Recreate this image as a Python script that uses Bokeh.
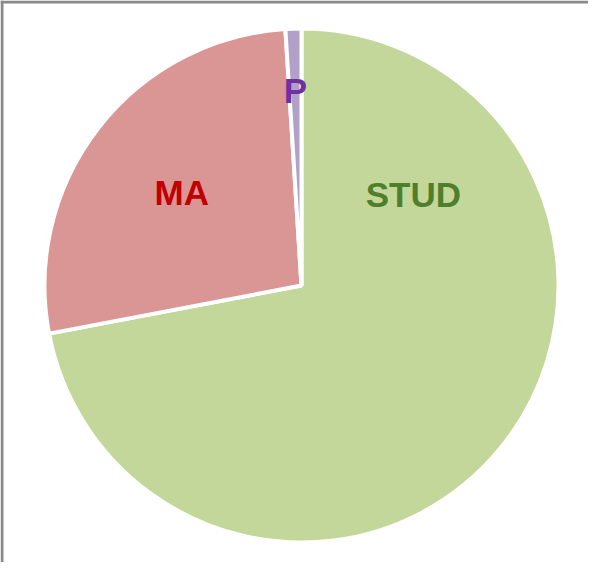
import math
from bokeh.plotting import figure
from bokeh.models import ColumnDataSource, Range1d
from bokeh.core.properties import value
from bokeh.embed import file_html
from bokeh.resources import INLINE

# Data (clockwise from 12 o'clock)
categories = ["STUD", "MA", "P"]
shares = [72, 27, 1]
fill_colors = ["#c4d79b", "#da9694", "#b1a0c7"]
label_colors = ["#4f7f2a", "#c00000", "#7030a0"]

# label placement (style): angle in degrees, fraction of radius
label_angle_deg = [39.0, 142.2, 91.8]
label_radius_frac = [0.56, 0.59, 0.76]

W, H = 588, 562
cx, cy, R = 301, H - 285, 257

total = sum(shares)
starts, ends = [], []
a = math.pi / 2
for s in shares:
    starts.append(a)
    a -= 2 * math.pi * s / total
    ends.append(a)

src = ColumnDataSource(dict(cat=categories, start=starts, end=ends, color=fill_colors))

p = figure(width=W, height=H, output_backend="svg", toolbar_location=None,
           x_range=Range1d(0, W), y_range=Range1d(0, H), min_border=0)
p.axis.visible = False
p.grid.visible = False
p.background_fill_color = "white"
p.border_fill_color = "white"
p.outline_line_color = None

# frame border: only left and top edges are visible in the reference view
p.segment(x0=[1.5, 0], y0=[0, H - 1.5], x1=[1.5, W], y1=[H, H - 1.5],
          line_color="#8a8a8a", line_width=3)

p.wedge(x=cx, y=cy, radius=R, start_angle="start", end_angle="end", direction="clock",
        fill_color="color", line_color="white", line_width=4, source=src)

lx = [cx + f * R * math.cos(math.radians(d)) for d, f in zip(label_angle_deg, label_radius_frac)]
ly = [cy + f * R * math.sin(math.radians(d)) for d, f in zip(label_angle_deg, label_radius_frac)]
lsrc = ColumnDataSource(dict(x=lx, y=ly, t=categories, c=label_colors))
p.text(x="x", y="y", text="t", text_color="c", source=lsrc,
       text_font=value("Liberation Sans"), text_font_style="bold", text_font_size="35px",
       text_align="center", text_baseline="middle")

open("out.html", "w").write(file_html(p, INLINE))
